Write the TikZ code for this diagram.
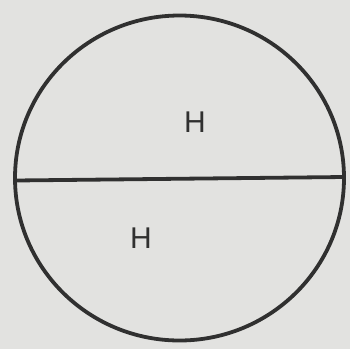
\documentclass[tikz,border=0pt]{standalone}
\usepackage{fontspec}
\setmainfont{Liberation Sans}
\definecolor{bg}{RGB}{226,226,224}
\definecolor{ink}{RGB}{48,48,48}
\begin{document}
\begin{tikzpicture}[x=1pt,y=-1pt,
  ring/.style={draw=ink,line width=3.8pt},
  label/.style={text=ink,font=\fontsize{30}{33}\selectfont,inner sep=0pt}]
\fill[bg] (0,0) rectangle (350,349);
\useasboundingbox (0,0) rectangle (350,349);
\coordinate (c) at (179.5,178);
\draw[ring] (c) ellipse[x radius=164.5,y radius=162.5];
\coordinate (l) at (15,180.5);
\coordinate (r) at (344,177);
\draw[ring] (l) -- (r);
\node[label] (h1) at (195,122) {H};
\node[label] (h2) at (141,238.5) {H};
\end{tikzpicture}
\end{document}
